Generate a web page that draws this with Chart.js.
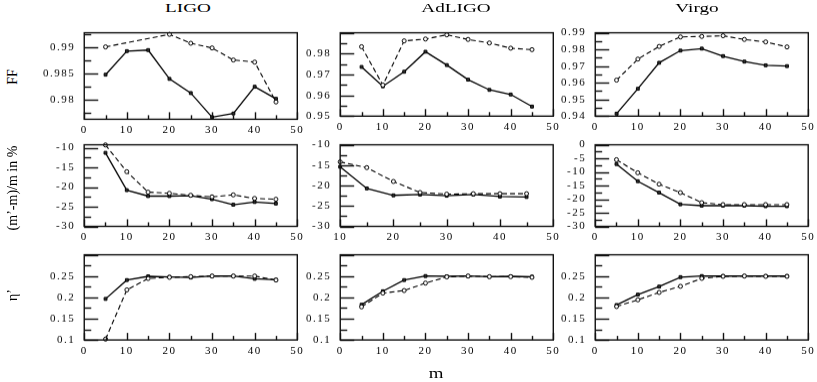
<!DOCTYPE html>
<html><head><meta charset="utf-8">
<script src="https://cdn.jsdelivr.net/npm/chart.js@4"></script>
<style>
html,body{margin:0;padding:0;background:#fff;}
body{width:817px;height:382px;position:relative;overflow:hidden;font-family:'Liberation Serif',serif;}
canvas{position:absolute;}
.t{position:absolute;white-space:nowrap;line-height:1;color:#000;font-family:'Liberation Serif',serif;}
</style></head><body>
<script>
// ---------- data ----------
const mAll = [5,10,15,20,25,30,35,40,45];
const mFrom10 = [10,15,20,25,30,35,40,45];

const ffLigoSolid  = [0.9847,0.9892,0.9894,0.9839,0.9812,0.9766,0.9773,0.9824,0.9801];
const ffLigoDashed = [0.9900,null,null,0.9924,0.9907,0.9898,0.9875,0.9871,0.9795];
const ffAdSolid    = [0.9736,0.9643,0.9713,0.9809,0.9745,0.9675,0.9626,0.9604,0.9546];
const ffAdDashed   = [0.9833,0.9649,0.9861,0.9870,0.9890,0.9868,0.9851,0.9826,0.9819];
const ffVirSolid   = [0.9415,0.9564,0.9720,0.9793,0.9805,0.9760,0.9727,0.9705,0.9700];
const ffVirDashed  = [0.9616,0.9742,0.9818,0.9875,0.9878,0.9882,0.9860,0.9845,0.9815];

const dmLigoSolid  = [-11.3,-20.8,-22.3,-22.3,-22.2,-23.1,-24.5,-23.8,-24.2];
const dmLigoDashed = [-9.3,-16.1,-21.3,-21.6,-22.1,-22.5,-22.0,-22.9,-23.1];
const dmAdSolid    = [-15.4,-20.7,-22.4,-22.2,-22.5,-22.2,-22.7,-22.8];
const dmAdDashed   = [-14.2,-15.6,-19.0,-21.7,-22.1,-22.0,-22.0,-22.0];
const dmVirSolid   = [-7.1,-13.4,-17.6,-21.9,-22.4,-22.4,-22.4,-22.6,-22.6];
const dmVirDashed  = [-5.5,-10.3,-14.5,-17.6,-21.3,-22.0,-22.0,-22.0,-22.0];

const etaLigoSolid  = [0.1964,0.2406,0.2493,0.2480,0.2465,0.2500,0.2500,0.2435,0.2414];
const etaLigoDashed = [0.1020,0.2176,0.2443,0.2470,0.2486,0.2500,0.2500,0.2500,0.2406];
const etaAdSolid    = [0.1827,0.2144,0.2406,0.2500,0.2493,0.2500,0.2486,0.2493,0.2486];
const etaAdDashed   = [0.1777,0.2100,0.2160,0.2335,0.2480,0.2500,0.2486,0.2486,0.2470];
const etaVirSolid   = [0.1820,0.2065,0.2252,0.2475,0.2500,0.2500,0.2500,0.2500,0.2500];
const etaVirDashed  = [0.1784,0.1942,0.2115,0.2259,0.2446,0.2493,0.2500,0.2493,0.2493];

// tick labels
const xTicks      = [0,10,20,30,40,50];
const xTicksFrom10= [10,20,30,40,50];
const ffLigoTicks = [0.98,0.985,0.99];
const ffAdTicks   = [0.95,0.96,0.97,0.98];
const ffVirTicks  = [0.94,0.95,0.96,0.97,0.98,0.99];
const dmTicks     = [-30,-25,-20,-15,-10];
const dmVirTicks  = [-30,-25,-20,-15,-10,-5,0];
const etaTicks    = [0.1,0.15,0.2,0.25];

const colTitles = ['LIGO','AdLIGO','Virgo'];
const rowTitles = ['FF','(m\u2019-m)/m in %','\u03b7\u2019'];
const xTitle = 'm';

// ---------- layout ----------
const cols = [{l:84,r:297},{l:340,r:553},{l:595,r:808}];
const rows = [{t:33,b:124},{t:145,b:237},{t:255,b:348}];

const panels = [
 {c:0,r:0,x:[0,50],xt:xTicks,y:[0.9762,0.9927],yt:ffLigoTicks,yMaj:0.005,yMin:0.0025,m:mAll,s:ffLigoSolid,d:ffLigoDashed},
 {c:1,r:0,x:[0,50],xt:xTicks,y:[0.95,0.99],yt:ffAdTicks,yMaj:0.01,yMin:0.005,m:mAll,s:ffAdSolid,d:ffAdDashed},
 {c:2,r:0,x:[0,50],xt:xTicks,y:[0.94,0.99],yt:ffVirTicks,yMaj:0.01,yMin:0.005,m:mAll,s:ffVirSolid,d:ffVirDashed},
 {c:0,r:1,x:[0,50],xt:xTicks,y:[-30,-9.25],yt:dmTicks,yMaj:5,yMin:2.5,m:mAll,s:dmLigoSolid,d:dmLigoDashed},
 {c:1,r:1,x:[10,50],xt:xTicksFrom10,y:[-30,-10],yt:dmTicks,yMaj:5,yMin:2.5,m:mFrom10,s:dmAdSolid,d:dmAdDashed},
 {c:2,r:1,x:[0,50],xt:xTicks,y:[-30,0],yt:dmVirTicks,yMaj:5,yMin:2.5,m:mAll,s:dmVirSolid,d:dmVirDashed},
 {c:0,r:2,x:[0,50],xt:xTicks,y:[0.1,0.3],yt:etaTicks,yMaj:0.05,yMin:0.025,m:mAll,s:etaLigoSolid,d:etaLigoDashed},
 {c:1,r:2,x:[0,50],xt:xTicks,y:[0.1,0.3],yt:etaTicks,yMaj:0.05,yMin:0.025,m:mAll,s:etaAdSolid,d:etaAdDashed},
 {c:2,r:2,x:[0,50],xt:xTicks,y:[0.1,0.3],yt:etaTicks,yMaj:0.05,yMin:0.025,m:mAll,s:etaVirSolid,d:etaVirDashed}
];

Chart.defaults.font.family = 'Liberation Serif';
Chart.defaults.font.size = 11;
Chart.defaults.color = '#000';

const LS = '1.5px';
function fmt(v){ return String(Number(v.toFixed(4))); }

function makeFrame(p){
  return {
    id:'frame',
    beforeUpdate(c){ c.ctx.letterSpacing = LS; },
    beforeDraw(c){ c.ctx.letterSpacing = LS; },
    afterDraw(c){
      const ctx=c.ctx, a=c.chartArea, xs=c.scales.x, ys=c.scales.y;
      ctx.save();
      ctx.strokeStyle='#111'; ctx.lineWidth=1.4; ctx.setLineDash([]);
      ctx.strokeRect(a.left,a.top,a.right-a.left,a.bottom-a.top);
      const xMinor=5, xMajor=10;
      for(let n=Math.ceil(xs.min/xMinor-1e-9); n<=Math.floor(xs.max/xMinor+1e-9); n++){
        const v=n*xMinor;
        const maj=Math.abs(v/xMajor-Math.round(v/xMajor))<1e-6;
        const px=Math.round(xs.getPixelForValue(v))+0.5;
        ctx.beginPath(); ctx.moveTo(px,a.bottom); ctx.lineTo(px,a.bottom-(maj?7:4)); ctx.stroke();
      }
      for(let n=Math.ceil(ys.min/p.yMin-1e-6); n<=Math.floor(ys.max/p.yMin+1e-6); n++){
        const v=n*p.yMin;
        const maj=Math.abs(v/p.yMaj-Math.round(v/p.yMaj))<1e-6;
        const py=Math.round(ys.getPixelForValue(v))+0.5;
        ctx.beginPath(); ctx.moveTo(a.left,py); ctx.lineTo(a.left+(maj?14:7),py); ctx.stroke();
      }
      ctx.restore();
    }
  };
}

function ds(p, arr, dashed){
  return {
    data: p.m.map((m,i)=>({x:m,y:arr[i]})),
    borderColor:'#000',
    borderWidth: dashed?1.1:1.3,
    borderDash: dashed?[5,3]:[],
    pointStyle: dashed?'circle':'rect',
    pointRadius: 2,
    pointBorderWidth: 1,
    pointBorderColor:'#000',
    pointBackgroundColor: dashed?'#fff':'#333',
    spanGaps:true,
    clip:false,
    tension:0
  };
}

const tickFont = {family:'Liberation Serif', size:11};

panels.forEach(p=>{
  const box={l:cols[p.c].l,r:cols[p.c].r,t:rows[p.r].t,b:rows[p.r].b};
  const canvas=document.createElement('canvas');
  document.body.appendChild(canvas);
  let L=box.l-60, T=box.t-12, W=(box.r-box.l)+80, H=(box.b-box.t)+40;
  canvas.width=W; canvas.height=H;
  canvas.style.left=L+'px'; canvas.style.top=T+'px';
  canvas.style.width=W+'px'; canvas.style.height=H+'px';
  const chart=new Chart(canvas,{
    type:'line',
    data:{datasets:[ds(p,p.d,true),ds(p,p.s,false)]},
    options:{
      responsive:false, animation:false, devicePixelRatio:1,
      layout:{padding:0},
      plugins:{legend:{display:false},tooltip:{enabled:false}},
      scales:{
        x:{type:'linear',min:p.x[0],max:p.x[1],
           grid:{display:false,drawTicks:false},border:{display:false},
           afterBuildTicks(s){ s.ticks=p.xt.map(v=>({value:v})); },
           ticks:{autoSkip:false,maxRotation:0,padding:4,color:'#000',font:tickFont,callback:v=>fmt(v)}},
        y:{type:'linear',min:p.y[0],max:p.y[1],
           grid:{display:false,drawTicks:false},border:{display:false},
           afterBuildTicks(s){ s.ticks=p.yt.map(v=>({value:v})); },
           ticks:{autoSkip:false,padding:9,color:'#000',font:tickFont,callback:v=>fmt(v)}}
      }
    },
    plugins:[makeFrame(p)]
  });
  for(let k=0;k<3;k++){
    const a=chart.chartArea;
    L+=box.l-(L+a.left); T+=box.t-(T+a.top);
    W+=(box.r-box.l)-(a.right-a.left); H+=(box.b-box.t)-(a.bottom-a.top);
    canvas.style.left=L+'px'; canvas.style.top=T+'px';
    chart.resize(W,H);
  }
});

function addText(txt,x,y,size,transform){
  const d=document.createElement('div');
  d.className='t'; d.textContent=txt;
  d.style.left=x+'px'; d.style.top=y+'px'; d.style.fontSize=size+'px';
  d.style.transform='translate(-50%,-50%) '+transform;
  document.body.appendChild(d);
}
const titleX=[188,456,697];
colTitles.forEach((t,i)=>addText(t,titleX[i],8,12,'scaleX(1.6)'));
const rowY=[77,188,295];
rowTitles.forEach((t,i)=>addText(t,13,rowY[i],14,'rotate(-90deg)'));
addText(xTitle,436,374,14,'scaleX(1.35)');
</script>
</body></html>
